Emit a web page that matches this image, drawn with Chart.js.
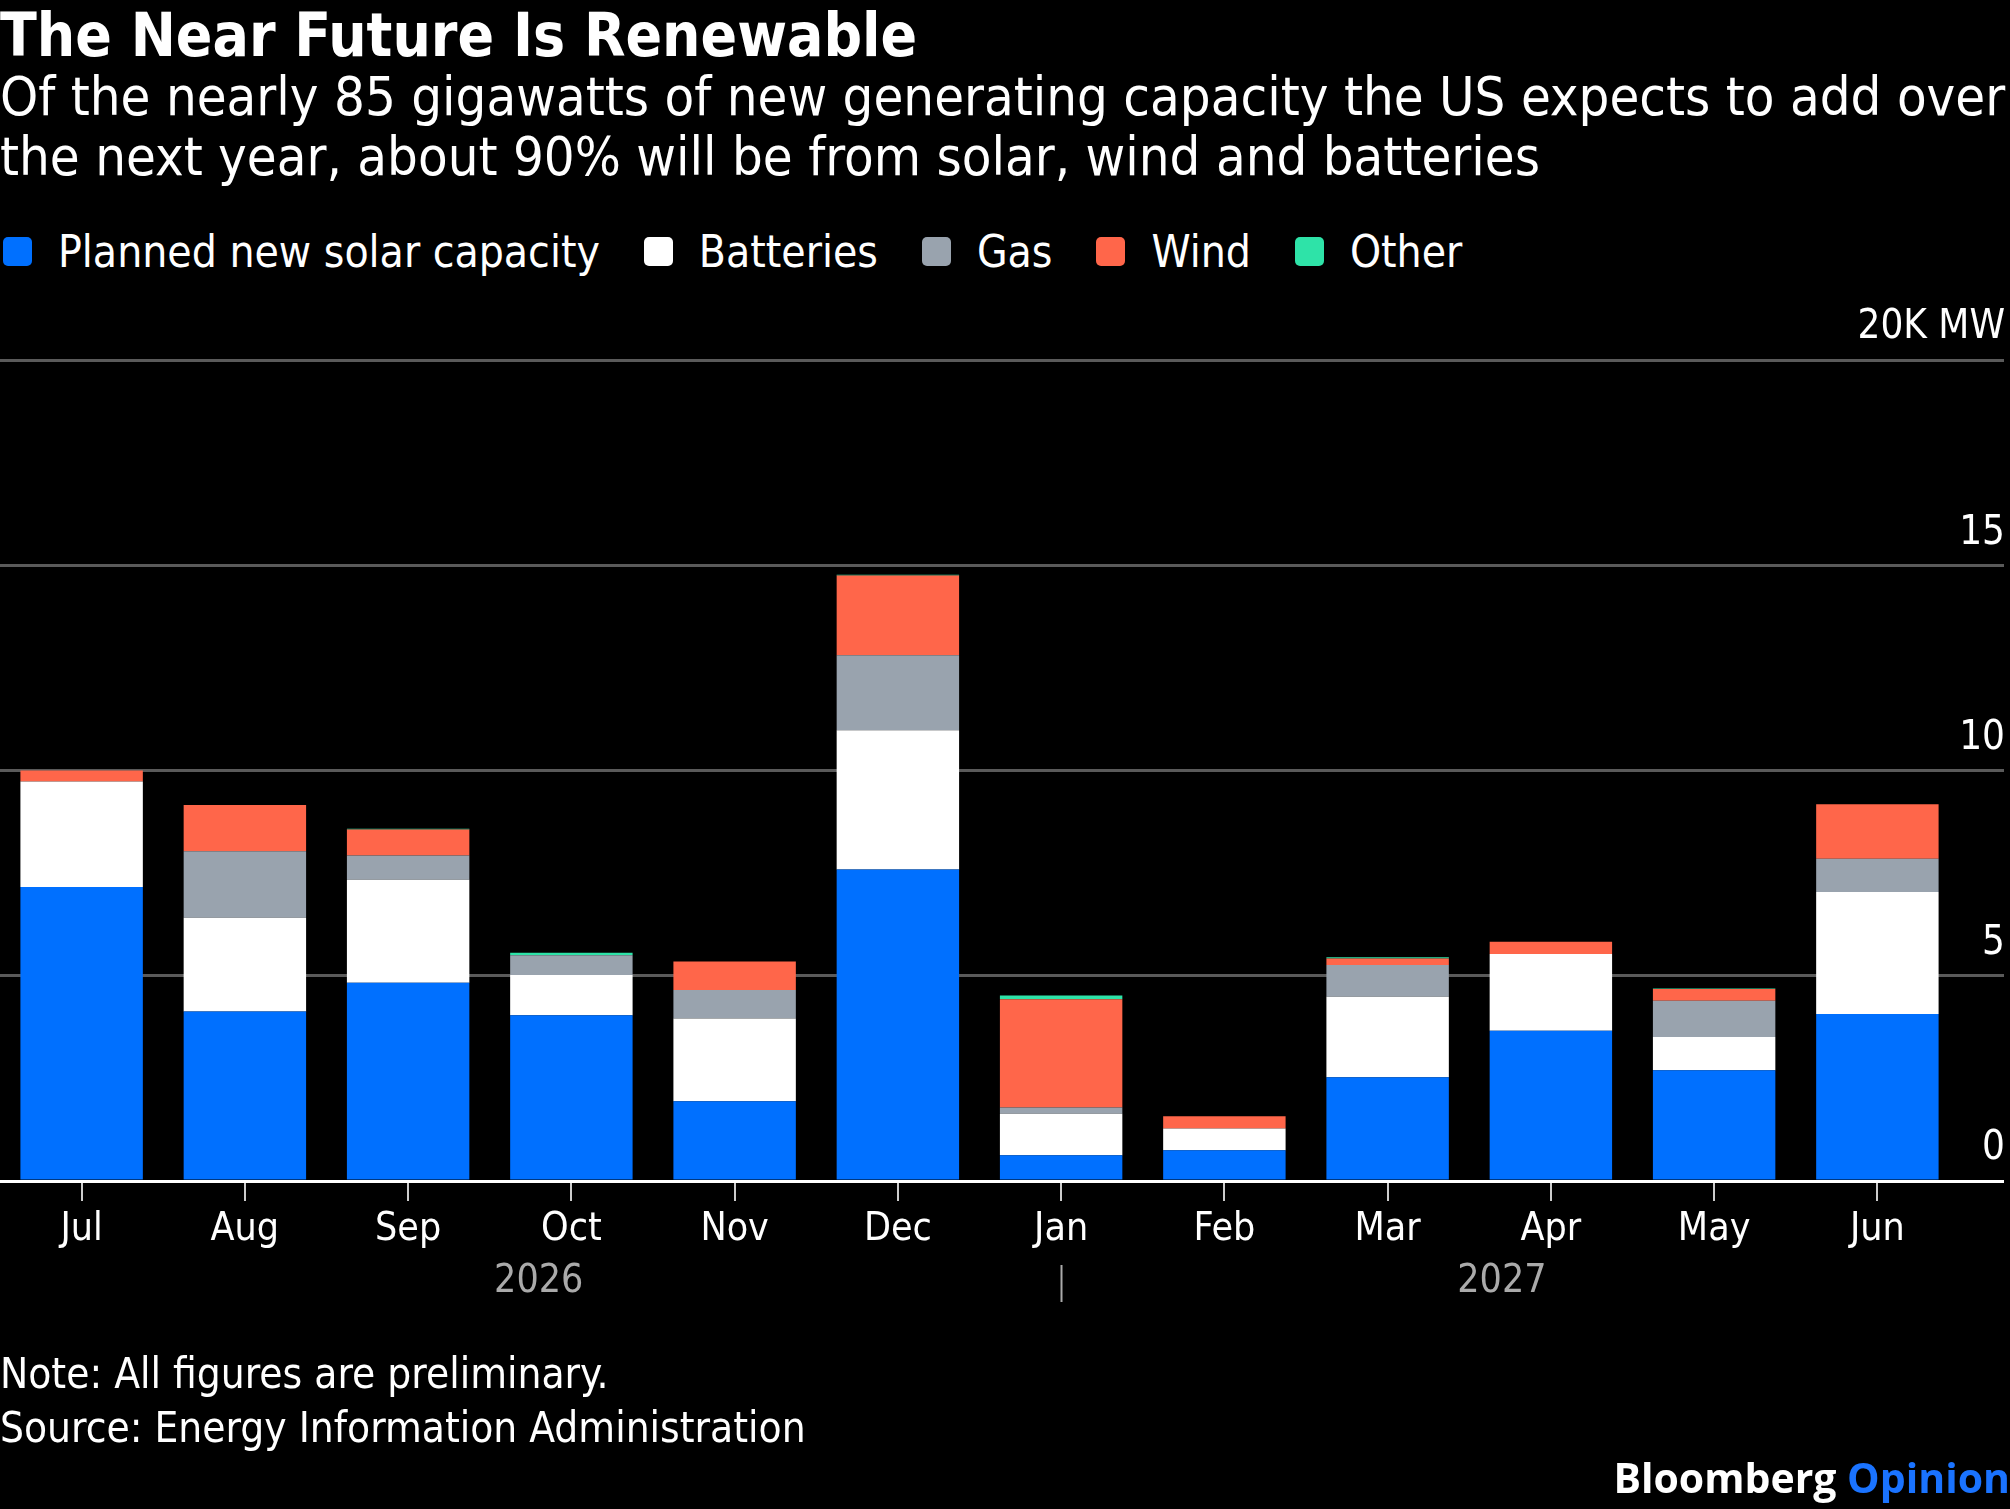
<!DOCTYPE html>
<html>
<head>
<meta charset="utf-8">
<script src="https://cdn.jsdelivr.net/npm/chart.js@4.4.1/dist/chart.umd.min.js"></script>
<style>
  html, body { margin: 0; padding: 0; background: #000; }
  body { width: 2010px; height: 1509px; position: relative; overflow: hidden;
         font-family: "DejaVu Sans Condensed", "DejaVu Sans", sans-serif; color: #fff; }
  .abs { position: absolute; left: 0; white-space: nowrap; }
  #title { top: 0px; font-size: 60px; font-weight: bold; }
  #subtitle { top: 67px; font-size: 54px; line-height: 60px; }
  #legend { top: 226px; left: 3px; font-size: 44px; display: flex; align-items: center; }
  #legend .item { display: flex; align-items: center; margin-right: 44px; }
  #legend .sw { width: 29px; height: 29px; border-radius: 5px; margin-right: 26px; }
  #notes { top: 1347px; font-size: 42px; line-height: 54px; }
  #brand { top: 1449px; left: auto; right: 0; font-family: "Open Sans", sans-serif;
           font-weight: bold; font-size: 41px; }
  #brand span { color: #1a73ff; }
  #chart-box { position: absolute; left: 0; top: 0; width: 2010px; height: 1509px; }
</style>
</head>
<body>
<div id="title" class="abs">The Near Future Is Renewable</div>
<div id="subtitle" class="abs">Of the nearly 85 gigawatts of new generating capacity the US expects to add over<br>the next year, about 90% will be from solar, wind and batteries</div>
<div id="legend" class="abs"></div>
<div id="chart-box"><canvas id="chart"></canvas></div>
<div id="notes" class="abs">Note: All figures are preliminary.<br>Source: Energy Information Administration</div>
<div id="brand" class="abs">Bloomberg <span>Opinion</span></div>

<script>
// Months on the x axis (Jul 2026 - Jun 2027)
const months = ["Jul", "Aug", "Sep", "Oct", "Nov", "Dec", "Jan", "Feb", "Mar", "Apr", "May", "Jun"];
const years = ["2026", "2027"];
const yearStartIndex = [0, 6];

// Planned new capacity, thousand MW
const solar = [7.16, 4.13, 4.83, 4.04, 1.94, 7.59, 0.63, 0.75, 2.53, 3.66, 2.70, 4.07];
const batteries = [2.57, 2.28, 2.51, 0.98, 2.02, 3.39, 1.01, 0.53, 1.96, 1.87, 0.81, 2.97];
const gas = [0, 1.62, 0.59, 0.48, 0.69, 1.83, 0.15, 0, 0.77, 0, 0.88, 0.81];
const wind = [0.27, 1.13, 0.63, 0, 0.70, 1.94, 2.64, 0.30, 0.16, 0.30, 0.29, 1.33];
const other = [0, 0, 0.02, 0.06, 0, 0.02, 0.09, 0, 0.03, 0, 0.01, 0];

const yTicks = [0, 5, 10, 15, 20];

const series = [
    { label: "Planned new solar capacity", data: solar, color: "#0070ff" },
    { label: "Batteries", data: batteries, color: "#ffffff" },
    { label: "Gas", data: gas, color: "#99a3ae" },
    { label: "Wind", data: wind, color: "#ff664a" },
    { label: "Other", data: other, color: "#2ee3a8" }
];

// Build the legend as plain html
const legendEl = document.getElementById("legend");
series.forEach((s) => {
    const item = document.createElement("div");
    item.className = "item";
    item.innerHTML = `<div class="sw" style="background:${s.color}"></div><div>${s.label}</div>`;
    legendEl.appendChild(item);
});

const fontFamily = "'DejaVu Sans Condensed', 'DejaVu Sans', sans-serif";
Chart.defaults.font.family = fontFamily;
Chart.defaults.color = "#ffffff";

// Draws the year row and the year divider under the month labels
const yearRow = {
    id: "yearRow",
    afterDraw(chart) {
        const x = chart.scales.x;
        const ctx = chart.ctx;
        ctx.save();
        ctx.fillStyle = "#aaaaaa";
        ctx.font = "39px " + fontFamily;
        ctx.textAlign = "center";
        ctx.textBaseline = "alphabetic";
        years.forEach((yr, i) => {
            const start = yearStartIndex[i];
            const end = i + 1 < years.length ? yearStartIndex[i + 1] - 0.4 : months.length - 0.6;
            ctx.fillText(yr, x.getPixelForValue((start + end) / 2), x.top + 111);
        });
        ctx.strokeStyle = "#aaaaaa";
        ctx.lineWidth = 2;
        yearStartIndex.slice(1).forEach((idx) => {
            const px = Math.round(x.getPixelForValue(idx)) + 0.5;
            ctx.beginPath();
            ctx.moveTo(px, x.top + 84);
            ctx.lineTo(px, x.top + 121);
            ctx.stroke();
        });
        ctx.restore();
    }
};

new Chart(document.getElementById("chart"), {
    type: "bar",
    data: {
        labels: months,
        datasets: series.map((s) => ({
            label: s.label,
            data: s.data,
            backgroundColor: s.color,
            borderWidth: 0,
            barPercentage: 0.75,
            categoryPercentage: 1.0
        }))
    },
    options: {
        responsive: true,
        maintainAspectRatio: false,
        devicePixelRatio: 1,
        animation: false,
        layout: { padding: { top: 360, left: 0, right: 6, bottom: 198 } },
        plugins: {
            legend: { display: false },
            tooltip: { enabled: false }
        },
        scales: {
            x: {
                stacked: true,
                offset: true,
                border: { display: false },
                grid: {
                    offset: false,
                    drawOnChartArea: false,
                    drawTicks: true,
                    tickLength: 20,
                    color: "#cccccc",
                    lineWidth: 2
                },
                ticks: {
                    color: "#ffffff",
                    font: { size: 39 },
                    padding: 5,
                    maxRotation: 0,
                    autoSkip: false
                },
                afterFit(scale) { scale.height = 130; }
            },
            y: {
                stacked: true,
                position: "right",
                min: 0,
                max: 20,
                border: { display: false },
                afterBuildTicks(scale) { scale.ticks = yTicks.map((v) => ({ value: v })); },
                grid: {
                    drawTicks: true,
                    tickLength: 45,
                    color: (ctx) => ctx.tick && ctx.tick.value === 0 ? "#ffffff" : "#5a5a5a",
                    lineWidth: 3
                },
                ticks: {
                    mirror: true,
                    crossAlign: "near",
                    padding: 46,
                    labelOffset: -32,
                    color: "#ffffff",
                    font: { size: 40 },
                    callback: (v) => v === 20 ? "20K MW" : String(v)
                },
                afterFit(scale) { scale.width = 45; }
            }
        }
    },
    plugins: [yearRow]
});
</script>
</body>
</html>
